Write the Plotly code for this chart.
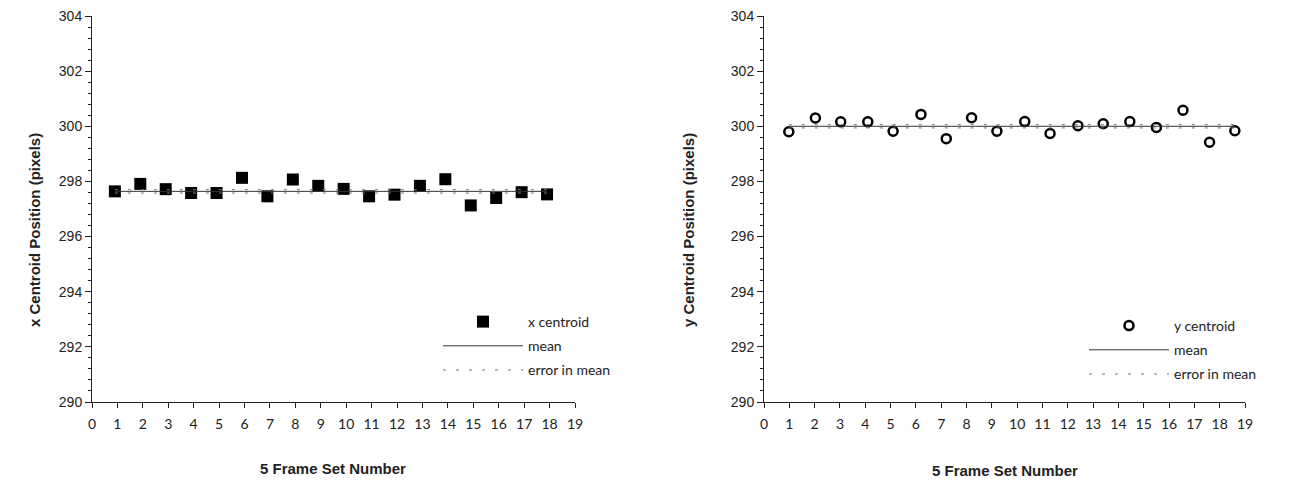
import plotly.graph_objects as go

# ---- data ----
set_x_left = [0.9, 1.9, 2.9, 3.9, 4.9, 5.9, 6.9, 7.9, 8.9, 9.9, 10.9, 11.9, 12.9, 13.9, 14.9, 15.9, 16.9, 17.9]
x_centroid = [297.64, 297.91, 297.72, 297.58, 297.58, 298.13, 297.46, 298.07, 297.84,
              297.73, 297.46, 297.52, 297.84, 298.08, 297.13, 297.40, 297.61, 297.53]
x_mean = 297.64
x_err = 0.06

set_x_right = [0.98, 2.03, 3.03, 4.1, 5.1, 6.2, 7.2, 8.2, 9.2, 10.3, 11.3, 12.4, 13.4, 14.45, 15.5, 16.55, 17.6, 18.6]
y_centroid = [299.80, 300.30, 300.16, 300.16, 299.82, 300.43, 299.55, 300.31, 299.82,
              300.17, 299.74, 300.02, 300.09, 300.17, 299.96, 300.58, 299.42, 299.84]
y_mean = 300.00
y_err = 0.06

x_ticks = list(range(0, 20))
y_ticks = [290, 292, 294, 296, 298, 300, 302, 304]

TICKFONT_Y = dict(family="Liberation Sans", size=14, color="#222")
TICKFONT_X = dict(family="Lato", size=14, color="#222")
LEGFONT = dict(family="Lato", size=14, color="#222")
TITLEFONT = dict(family="Liberation Sans", size=15, color="#222")

fig = go.Figure()

def add_panel(xs, ys, mean, err, xa, ya, leg, name, symbol, msize, mline):
    fig.add_trace(go.Scatter(x=xs, y=ys, mode="markers", name=name,
                             marker=dict(symbol=symbol, size=msize, color="black",
                                         line=dict(color="black", width=mline)),
                             xaxis=xa, yaxis=ya, legend=leg, legendgroup=name + "a"))
    xl = [xs[0], xs[-1]]
    fig.add_trace(go.Scatter(x=xl, y=[mean, mean], mode="lines", name="mean",
                             line=dict(color="#333", width=1),
                             xaxis=xa, yaxis=ya, legend=leg, legendgroup=name + "b"))
    fig.add_trace(go.Scatter(x=xl, y=[mean + err, mean + err], mode="lines", name="error in mean",
                             line=dict(color="#777", width=1, dash="3px,10px"),
                             xaxis=xa, yaxis=ya, legend=leg, legendgroup=name + "c"))
    fig.add_trace(go.Scatter(x=xl, y=[mean - err, mean - err], mode="lines", name="error in mean",
                             line=dict(color="#777", width=1, dash="3px,10px"), showlegend=False,
                             xaxis=xa, yaxis=ya, legend=leg, legendgroup=name + "c"))

add_panel(set_x_left, x_centroid, x_mean, x_err, "x", "y", "legend", "x centroid", "square", 12, 0)
add_panel(set_x_right, y_centroid, y_mean, y_err, "x2", "y2", "legend2", "y centroid", "circle-open", 9, 2.5)

W, H = 1304, 480
ydom = [(H - 402) / H, (H - 16) / H]

def xaxis(dom):
    return dict(domain=dom, range=[0, 19], tickvals=x_ticks, ticktext=[str(t) for t in x_ticks],
                showline=True, linecolor="#222", linewidth=1, ticks="outside", ticklen=5,
                tickcolor="#222", showgrid=False, zeroline=False, tickfont=TICKFONT_X,
                automargin=False, ticklabelstandoff=4)

def yaxis(anchor):
    return dict(domain=ydom, range=[290, 304], tickvals=y_ticks, anchor=anchor,
                showline=True, linecolor="#222", linewidth=1, ticks="outside", ticklen=6,
                tickcolor="#222", showgrid=False, zeroline=False, tickfont=TICKFONT_Y,
                automargin=False,
                minor=dict(tick0=290, dtick=0.4, ticks="outside", ticklen=3, tickcolor="#222", showgrid=False))

legbase = dict(font=LEGFONT, bgcolor="rgba(0,0,0,0)", itemwidth=80, tracegroupgap=3,
               traceorder="grouped", xanchor="left", yanchor="top")

fig.update_layout(
    width=W, height=H, margin=dict(l=0, r=0, t=0, b=0, autoexpand=False),
    plot_bgcolor="white", paper_bgcolor="white",
    xaxis=xaxis([92 / W, 575 / W]) | dict(anchor="y"),
    yaxis=yaxis("x"),
    xaxis2=xaxis([764 / W, 1245 / W]) | dict(anchor="y2"),
    yaxis2=yaxis("x2"),
    legend=legbase | dict(x=438 / W, y=(H - 306) / H),
    legend2=legbase | dict(x=1084 / W, y=(H - 310) / H),
    annotations=[
        dict(text="<b>x Centroid Position (pixels)</b>", textangle=-90, x=35 / W, y=(H - 230) / H,
             xanchor="center", yanchor="middle",
             xref="paper", yref="paper", showarrow=False, font=TITLEFONT),
        dict(text="<b>y Centroid Position (pixels)</b>", textangle=-90, x=689 / W, y=(H - 230) / H,
             xanchor="center", yanchor="middle",
             xref="paper", yref="paper", showarrow=False, font=TITLEFONT),
        dict(text="<b>5 Frame Set Number</b>", x=333 / W, y=(H - 468) / H,
             xanchor="center", yanchor="middle",
             xref="paper", yref="paper", showarrow=False, font=TITLEFONT),
        dict(text="<b>5 Frame Set Number</b>", x=1005 / W, y=(H - 470) / H,
             xanchor="center", yanchor="middle",
             xref="paper", yref="paper", showarrow=False, font=TITLEFONT),
    ],
)

fig.write_html("out.html", config={"displayModeBar": False},
               post_script="document.body.style.margin='0';")
